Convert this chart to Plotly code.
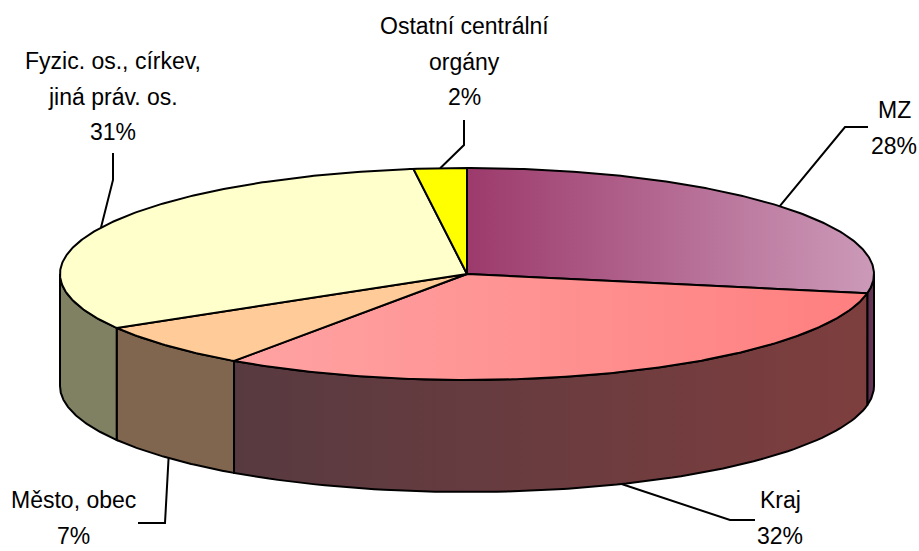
import numpy as np
import plotly.graph_objects as go

# ---- data ----
labels = ["MZ", "Kraj", "Město, obec", "Fyzic. os., církev,<br>jiná práv. os.", "Ostatní centrální<br>orgány"]
values = [27.9, 31.8, 6.8, 31.4, 2.1]
top_colors = [("#9C3A6C", "#CC9AB9"), ("#FFA3A3", "#FF7F7F"), ("#FFCC99", "#FFCC99"),
              ("#FFFFCC", "#FFFFCC"), ("#FFFF00", "#FFFF00")]
side_colors = [("#5A2E4C", "#6A3858"), ("#573A40", "#7E3E3E"), ("#80664E", "#80664E"),
               ("#808062", "#808062"), ("#999900", "#999900")]

# ---- geometry (pixel space) ----
W, H = 919, 551
cx, cy, rx, ry, depth = 467, 274, 407, 106, 112

def pt(theta_deg, dy=0.0):
    t = np.radians(theta_deg)
    return cx + rx * np.sin(t), cy - ry * np.cos(t) + dy

fig = go.Figure()
total = float(sum(values))
bounds = np.concatenate([[0], np.cumsum(values)]) / total * 360.0

# side walls (front half: 90..270 deg)
for i in range(len(values)):
    a0, a1 = bounds[i], bounds[i + 1]
    s0, s1 = max(a0, 90), min(a1, 270)
    if s1 <= s0:
        continue
    th = np.linspace(s0, s1, 80)
    xt, yt = pt(th)
    xb, yb = pt(th[::-1], depth)
    xs = np.concatenate([xt, xb, xt[:1]])
    ys = np.concatenate([yt, yb, yt[:1]])
    c0, c1 = side_colors[i]
    fig.add_trace(go.Scatter(
        x=xs, y=ys, mode="lines", fill="toself",
        fillgradient=dict(type="horizontal", colorscale=[[0, c0], [1, c1]]),
        line=dict(color="black", width=2), hoverinfo="skip", showlegend=False))

# top faces
for i in range(len(values)):
    a0, a1 = bounds[i], bounds[i + 1]
    th = np.linspace(a0, a1, max(4, int((a1 - a0) * 2)))
    xa, ya = pt(th)
    xs = np.concatenate([[cx], xa, [cx]])
    ys = np.concatenate([[cy], ya, [cy]])
    c0, c1 = top_colors[i]
    fig.add_trace(go.Scatter(
        x=xs, y=ys, mode="lines", fill="toself",
        fillgradient=dict(type="horizontal", colorscale=[[0, c0], [1, c1]]),
        line=dict(color="black", width=2), hoverinfo="skip", showlegend=False))

# ---- labels and leader lines ----
# (elbow point, end point, label centre x, y of first text line, use bottom edge)
label_layout = [
    ((845, 127), (868, 127), 894, 110, False),
    ((730, 520), (755, 520), 780, 500, True),
    ((165, 523), (138, 523), 73, 500, True),
    ((113, 180), (113, 153), 113, 61, False),
    ((464, 145), (464, 120), 464, 26, False),
]
line_gap = 35.5
font = dict(family="Liberation Sans Narrow, Arial Narrow, Liberation Sans, Arial", size=23, color="black")
for i, (elb, end, lx, ly, bottom) in enumerate(label_layout):
    mid = (bounds[i] + bounds[i + 1]) / 2
    sx, sy = pt(mid, depth if bottom else 0)
    fig.add_trace(go.Scatter(x=[sx, elb[0], end[0]], y=[sy, elb[1], end[1]], mode="lines",
                             line=dict(color="black", width=2), hoverinfo="skip", showlegend=False))
    pct = f"{values[i] / total * 100:.0f}%"
    lines = labels[i].split("<br>") + [pct]
    for k, txt in enumerate(lines):
        fig.add_annotation(x=lx, y=ly + k * line_gap, xref="x", yref="y", text=txt,
                           showarrow=False, font=font, align="center",
                           xanchor="center", yanchor="middle")

fig.update_layout(
    width=W, height=H, margin=dict(l=0, r=0, t=0, b=0),
    paper_bgcolor="white", plot_bgcolor="white",
    xaxis=dict(range=[0, W], visible=False, fixedrange=True),
    yaxis=dict(range=[H, 0], visible=False, fixedrange=True),
)
fig.write_html("out.html", config={"displayModeBar": False},
               post_script="document.body.style.margin='0';document.body.style.overflow='hidden';")
